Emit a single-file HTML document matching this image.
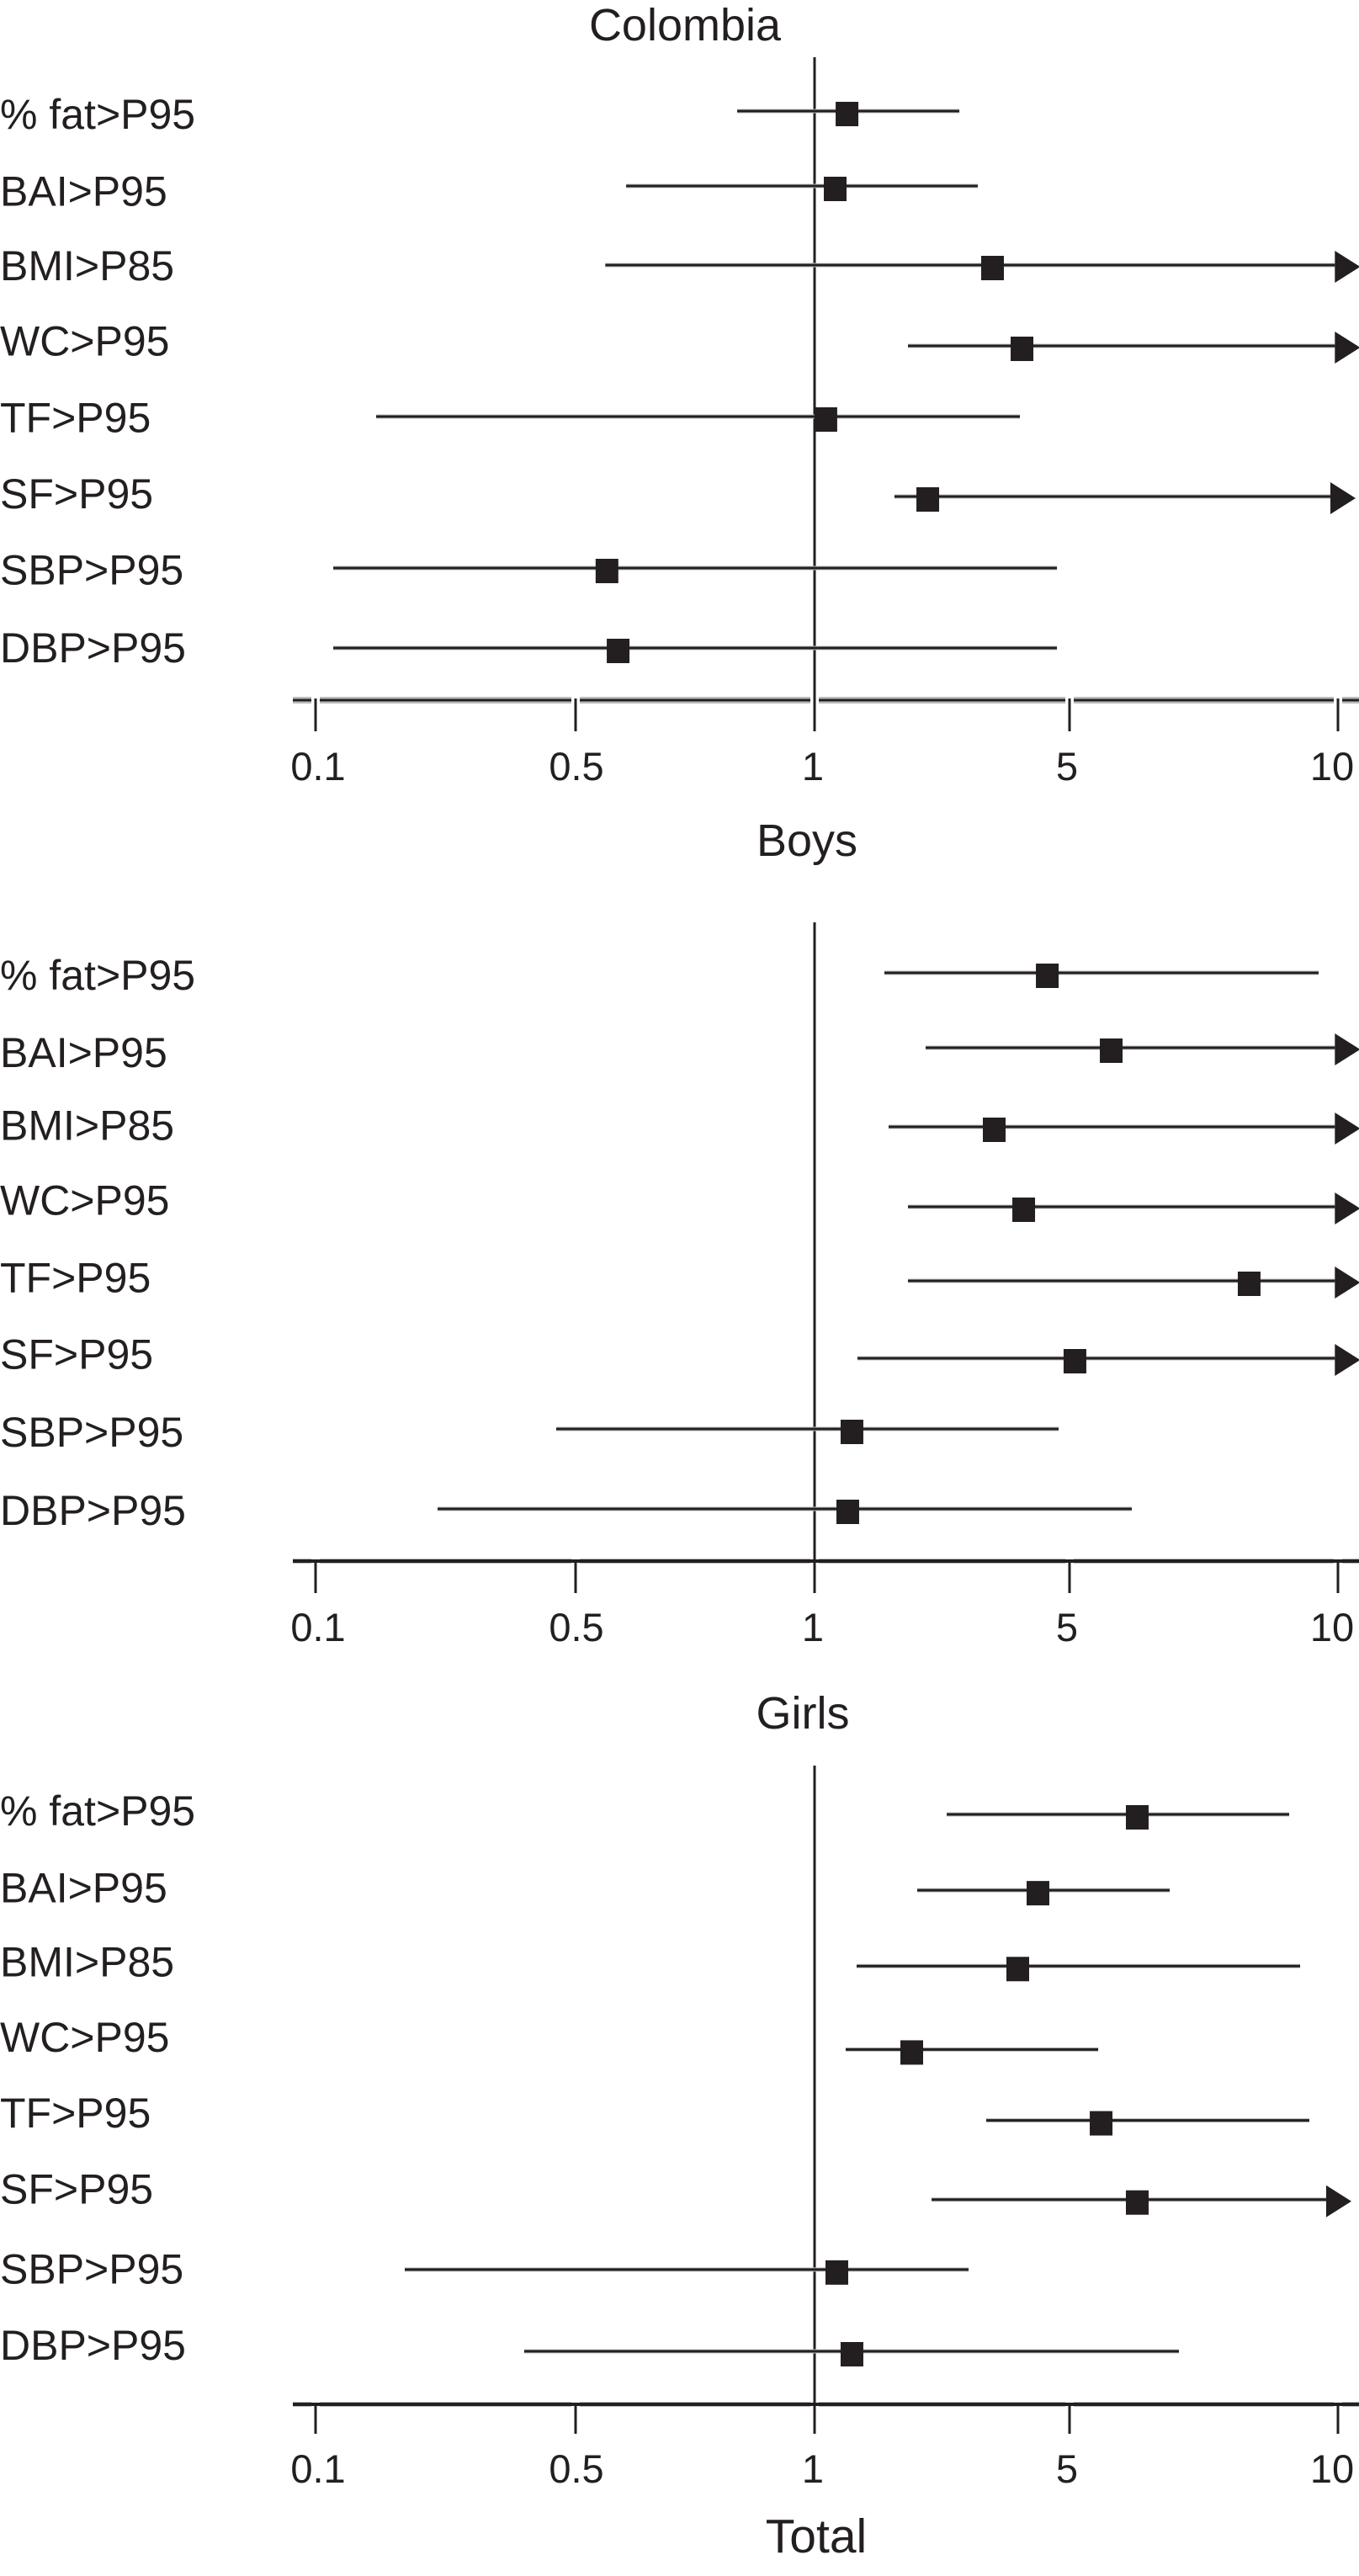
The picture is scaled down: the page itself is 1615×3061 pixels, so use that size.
<!DOCTYPE html>
<html lang="en">
<head>
<meta charset="utf-8">
<title>Forest plots: Colombia, Boys, Girls, Total</title>
<style>
html,body{margin:0;padding:0;background:#fff;}
svg{display:block;}
text{font-family:"Liberation Sans",Arial,sans-serif;fill:#231f20;}
</style>
</head>
<body>
<svg id="chart" xmlns="http://www.w3.org/2000/svg" width="1615" height="3061" viewBox="0 0 1615 3061">
  <rect x="0" y="0" width="1615" height="3061" fill="#ffffff"/>
  <text x="814" y="48" font-size="54" text-anchor="middle">Colombia</text>
  <text x="959" y="1017" font-size="54" text-anchor="middle">Boys</text>
  <text x="954" y="2054" font-size="54" text-anchor="middle">Girls</text>
  <text x="970" y="3033" font-size="57" text-anchor="middle">Total</text>
</svg>
<script>
// ---- data ----
const categories = ['% fat>P95','BAI>P95','BMI>P85','WC>P95','TF>P95','SF>P95','SBP>P95','DBP>P95'];
const tickValues = [0.1,0.5,1,5,10];
const tickLabels = ['0.1','0.5','1','5','10'];

const colombiaOdds    = [1.224,1.136,3.067,3.694,1.071,2.038,0.547,0.565];
const colombiaLower   = [0.799,0.579,0.545,1.803,0.1455,1.656,0.1116,0.1116];
const colombiaUpper   = [2.494,2.802,9.92,9.92,3.655,9.806,4.618,4.618];
const colombiaClipped = [false,false,true,true,false,true,false,false];

const boysOdds    = [4.333,5.562,3.100,3.734,7.942,5.065,1.263,1.230];
const boysLower   = [1.554,2.016,1.596,1.803,1.803,1.311,0.4435,0.2128];
const boysUpper   = [9.513,9.92,9.92,9.92,9.92,9.92,4.667,5.872];
const boysClipped = [false,true,true,true,true,true,false,false];

const girlsOdds    = [5.949,4.086,3.597,1.842,5.419,5.949,1.148,1.263];
const girlsLower   = [2.303,1.912,1.304,1.217,2.955,2.093,0.1737,0.3638];
const girlsUpper   = [8.816,6.476,9.069,5.384,9.288,9.70,2.644,6.632];
const girlsClipped = [false,false,false,false,false,true,false,false];

// ---- layout ----
const INK = '#231f20';
const axisStops = [375,684,968,1271,1590];      // screen position of each tick on the broken log axis
const tickLabelShift = [3,1,-2,-3,-7];
const panelLayouts = [
  {key:'colombia', odds:colombiaOdds, lower:colombiaLower, upper:colombiaUpper, clipped:colombiaClipped,
   rowTop:132, rowBottom:769, rowShift:[0,-2,1,6,-1,3,-3,1],
   labelTop:136, labelBottom:770, labelShift:[0,1,-1,-2,-2,-2,-2,0],
   refTop:68, axisY:832, tickEnd:869, tickBase:927, halo:8, gapsCutAxis:true},
  {key:'boys', odds:boysOdds, lower:boysLower, upper:boysUpper, clipped:boysClipped,
   rowTop:1156, rowBottom:1793, rowShift:[0,-2,1,5,2,3,-4,0],
   labelTop:1159, labelBottom:1795, labelShift:[0,1,-3,-5,-4,-4,-2,0],
   refTop:1096, axisY:1855, tickEnd:1893, tickBase:1950, halo:6, gapsCutAxis:false},
  {key:'girls', odds:girlsOdds, lower:girlsLower, upper:girlsUpper, clipped:girlsClipped,
   rowTop:2156, rowBottom:2794, rowShift:[0,-1,-2,6,-1,2,-6,0],
   labelTop:2152, labelBottom:2787, labelShift:[0,1,-2,-3,-4,-4,0,0],
   refTop:2098, axisY:2857, tickEnd:2892, tickBase:2950, halo:6, gapsCutAxis:false}
];

// ---- axis functions ----
function xScale(v){
  let i = 0;
  while(i < tickValues.length - 2 && v > tickValues[i+1]) i++;
  const t = Math.log(v / tickValues[i]) / Math.log(tickValues[i+1] / tickValues[i]);
  return axisStops[i] + t * (axisStops[i+1] - axisStops[i]);
}
function bandScale(i, top, bottom){
  return top + i * (bottom - top) / (categories.length - 1);
}

// ---- drawing ----
const svg = document.getElementById('chart');
const NS = 'http://www.w3.org/2000/svg';
function make(tag, attrs){
  const el = document.createElementNS(NS, tag);
  for(const k in attrs) el.setAttribute(k, attrs[k]);
  svg.appendChild(el);
  return el;
}
function drawGaps(p){
  tickValues.forEach(function(v){
    const gap = make('rect',{x:xScale(v)-5,y:p.axisY-p.halo/2,width:10,height:p.halo,fill:'#ffffff'});
    
    
  });
}

panelLayouts.forEach(function(p){
  const x1 = xScale(1);

  // axis line
  const axisHalo = make('line',{x1:348,x2:1615,y1:p.axisY,y2:p.axisY,stroke:'#bdbcbc','stroke-width':p.halo});
  
  
  if(!p.gapsCutAxis) drawGaps(p);
  const axisLine = make('line',{x1:348,x2:1615,y1:p.axisY,y2:p.axisY,stroke:INK,'stroke-width':p.gapsCutAxis?3:4});
  
  
  if(p.gapsCutAxis) drawGaps(p);

  // ticks + tick labels
  tickValues.forEach(function(v,i){
    const tx = xScale(v);
    const tick = make('line',{x1:tx,x2:tx,y1:p.axisY-2,y2:p.tickEnd,stroke:INK,'stroke-width':3});
    
    
    const lab = make('text',{x:tx+tickLabelShift[i],y:p.tickBase,'font-size':47,'text-anchor':'middle'});
    lab.textContent = tickLabels[i];
    
    
  });

  // reference line at 1
  const ref = make('line',{x1:x1,x2:x1,y1:p.refTop,y2:p.tickEnd,stroke:INK,'stroke-width':3});
  
  

  // rows
  categories.forEach(function(cat,i){
    const ly = bandScale(i,p.labelTop,p.labelBottom) + p.labelShift[i] + 17;
    const lab = make('text',{x:0,y:ly,'font-size':50});
    lab.textContent = cat;
    
    

    const y = bandScale(i,p.rowTop,p.rowBottom) + p.rowShift[i];
    const xl = xScale(p.lower[i]);
    const xh = xScale(p.upper[i]);
    const xo = xScale(p.odds[i]);

    const halo = make('line',{x1:xl,x2:xh,y1:y,y2:y,stroke:'#bdbcbc','stroke-width':5});
    
    
    const ci = make('line',{x1:xl,x2:xh,y1:y,y2:y,stroke:INK,'stroke-width':3});
    
    

    const sq = make('rect',{x:xo-13,y:y-11,width:27,height:29,fill:INK});
    
    

    if(p.clipped[i]){
      const ay = y + 2;
      const arrow = make('polygon',{points:[xh,ay-19,xh+30,ay,xh,ay+19].join(' '),fill:INK});
      
      
    }
  });
});
</script>
</body>
</html>
